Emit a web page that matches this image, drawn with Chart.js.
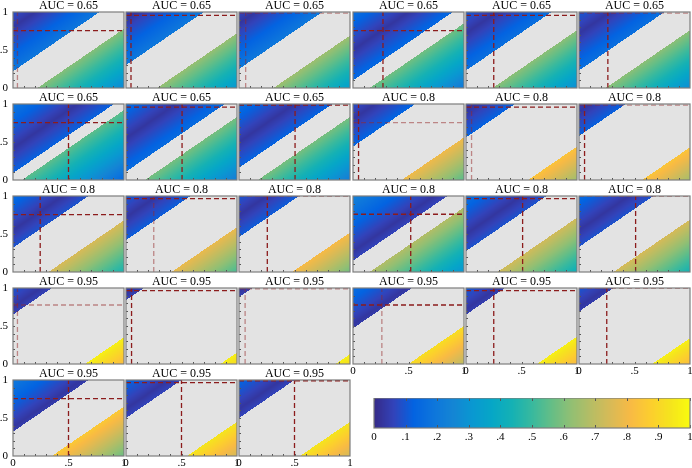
<!DOCTYPE html>
<html>
<head>
<meta charset="utf-8">
<script src="https://cdn.jsdelivr.net/npm/chart.js@4.4.1/dist/chart.umd.min.js"></script>
<style>
html, body { margin: 0; padding: 0; background: #fff; }
body { width: 692px; height: 468px; position: relative; overflow: hidden; }
canvas { position: absolute; }
</style>
</head>
<body>
<script>
// one entry per panel, row by row (6 per row, last row has 3)
const aucLabels = ['0.65', '0.65', '0.65', '0.65', '0.65', '0.65',
    '0.65', '0.65', '0.65', '0.8', '0.8', '0.8',
    '0.8', '0.8', '0.8', '0.8', '0.8', '0.8',
    '0.95', '0.95', '0.95', '0.95', '0.95', '0.95',
    '0.95', '0.95', '0.95'];
// grey band limits, in y - x
const upperEdge = [.22, .30, .25, .10, .23, .23, .09, .11, .16, .44, .56, .58,
    .32, .42, .46, .15, .275, .33, .65, .84, .88, .47, .65, .69, .32, .5, .5];
const lowerEdge = [-.22, -.28, -.31, -.15, -.24, -.24, -.08, -.17, -.17, -.44, -.56, -.57,
    -.32, -.41, -.48, -.15, -.285, -.31, -.65, -.85, -.87, -.5, -.64, -.66, -.35, -.55, -.55];
// dark valley in the upper region, in y - x
const stripeAt = [.8, .9, .85, .5, .72, .72, .42, .55, .5, .8, .9, .9,
    .55, .72, .75, .27, .5, .55, .75, .93, .95, .52, .72, .75, .38, .62, .62];
const vLineX = [.04, .045, .06, .27, .25, .26, .5, .505, .505, .05, .05, .05,
    .245, .25, .255, .52, .51, .51, .04, .05, .055, .26, .25, .25, .5, .5, .5];
const hLineY = [.755, .955, .985, .755, .955, .985, .755, .96, .985, .755, .96, .985,
    .755, .965, .995, .76, .965, .995, .776, .965, .99, .776, .965, .995, .755, .965, .99];
const vFaded = [1, 0, 1, 0, 0, 0, 0, 0, 0, 0, 1, 0, 0, 1, 0, 0, 0, 0, 1, 0, 1, 1, 0, 0, 0, 0, 0];
const hFaded = [0, 0, 1, 0, 0, 1, 0, 0, 0, 1, 0, 1, 0, 0, 1, 0, 0, 1, 1, 0, 1, 0, 0, 1, 0, 0, 0];
// level just below the band, before the band width is added
const edgeBase = { '0.65': 0.52, '0.8': 0.62, '0.95': 0.72 };

const axisTicks = [0, 0.5, 1];
const axisTickText = ['0', '.5', '1'];
const barTicks = [0, .1, .2, .3, .4, .5, .6, .7, .8, .9, 1];
const barTickText = ['0', '.1', '.2', '.3', '.4', '.5', '.6', '.7', '.8', '.9', '1'];

const parula = [
    [53, 42, 135], [50, 67, 186], [3, 99, 225], [13, 117, 220], [20, 133, 212],
    [9, 152, 209], [6, 167, 198], [21, 177, 180], [56, 185, 158], [101, 190, 134],
    [146, 191, 115], [183, 189, 100], [217, 186, 86], [248, 186, 68], [252, 206, 46],
    [245, 228, 29], [249, 251, 14],
];

const colLeft = [13, 126, 239, 353, 466, 579];
const rowTop = [12, 104, 196, 288, 380];
const panelW = 111;
const panelH = 76;
const serif = '"Liberation Serif", "Times New Roman", serif';

const parulaAt = (v) => {
    const t = Math.min(Math.max(v, 0), 1) * (parula.length - 1);
    const k = Math.min(Math.floor(t), parula.length - 2);
    const f = t - k;
    return parula[k].map((c, j) => c + (parula[k + 1][j] - c) * f);
};

const cellColour = (i, xv, yv) => {
    const d = yv - xv;
    if (d > upperEdge[i]) {
        return parulaAt(0.03 + 0.28 * Math.abs(d - stripeAt[i]));
    }
    if (d < lowerEdge[i]) {
        const top = Math.min(0.97, edgeBase[aucLabels[i]] + 0.4 * Math.abs(lowerEdge[i]));
        return parulaAt(top - 0.45 * (lowerEdge[i] - d));
    }
    return [227, 227, 227];
};

const heatPlugin = (i) => ({
    id: 'heat',
    beforeDatasetsDraw(chart) {
        const { ctx, chartArea: a, scales: { x, y } } = chart;
        const w = Math.round(a.right - a.left);
        const h = Math.round(a.bottom - a.top);
        const img = ctx.createImageData(w, h);
        for (let py = 0; py < h; py++) {
            const yv = y.getValueForPixel(a.top + py + 0.5);
            for (let px = 0; px < w; px++) {
                const xv = x.getValueForPixel(a.left + px + 0.5);
                const c = cellColour(i, xv, yv);
                const o = (py * w + px) * 4;
                img.data[o] = c[0];
                img.data[o + 1] = c[1];
                img.data[o + 2] = c[2];
                img.data[o + 3] = 255;
            }
        }
        ctx.putImageData(img, a.left, a.top);
    },
    afterDatasetsDraw(chart) {
        const { ctx, chartArea: a, scales: { x, y } } = chart;
        ctx.save();
        ctx.strokeStyle = '#555';
        ctx.lineWidth = 1;
        for (let k = 1; k < 10; k++) {
            const px = Math.round(x.getPixelForValue(k / 10)) + 0.5;
            const py = Math.round(y.getPixelForValue(k / 10)) + 0.5;
            ctx.beginPath();
            ctx.moveTo(px, a.bottom);
            ctx.lineTo(px, a.bottom - 2);
            ctx.moveTo(a.left, py);
            ctx.lineTo(a.left + 2, py);
            ctx.stroke();
        }
        ctx.strokeStyle = '#7d7d7d';
        ctx.lineWidth = 1.2;
        ctx.strokeRect(a.left, a.top, a.right - a.left, a.bottom - a.top);
        ctx.restore();
    },
});

const dashColour = (faded) => (faded ? 'rgba(150, 40, 40, 0.5)' : 'rgb(140, 28, 28)');

const makePanel = (i) => {
    const row = Math.floor(i / 6);
    const col = i % 6;
    const canvas = document.createElement('canvas');
    const cw = 16 + panelW + 4;
    const ch = 18 + panelH + 16;
    canvas.width = cw;
    canvas.height = ch;
    canvas.style.width = cw + 'px';
    canvas.style.height = ch + 'px';
    canvas.style.left = (colLeft[col] - 16) + 'px';
    canvas.style.top = (rowTop[row] - 18) + 'px';
    document.body.appendChild(canvas);

    const showY = col === 0;
    const showX = row === 4 || (row === 3 && col >= 3);
    const tickFont = { family: serif, size: 11 };

    return new Chart(canvas, {
        type: 'scatter',
        data: {
            datasets: [
                {
                    data: [{ x: vLineX[i], y: 0 }, { x: vLineX[i], y: 1 }],
                    showLine: true,
                    borderColor: dashColour(vFaded[i]),
                    borderWidth: 1.3,
                    borderDash: [5, 3],
                    pointRadius: 0,
                },
                {
                    data: [{ x: 0, y: hLineY[i] }, { x: 1, y: hLineY[i] }],
                    showLine: true,
                    borderColor: dashColour(hFaded[i]),
                    borderWidth: 1.3,
                    borderDash: [5, 3],
                    pointRadius: 0,
                },
            ],
        },
        options: {
            responsive: false,
            animation: false,
            events: [],
            layout: { padding: { left: 0, right: 4, top: 0, bottom: 0 } },
            plugins: {
                legend: { display: false },
                tooltip: { enabled: false },
                title: {
                    display: true,
                    text: 'AUC = ' + aucLabels[i],
                    fullSize: false,
                    color: '#000',
                    font: { family: serif, size: 12, weight: 'normal', lineHeight: 1 },
                    padding: { top: 5.5, bottom: 0.5 },
                },
            },
            scales: {
                x: {
                    type: 'linear',
                    min: 0,
                    max: 1,
                    afterBuildTicks: (s) => { s.ticks = axisTicks.map((v) => ({ value: v })); },
                    afterFit: (s) => { s.height = 16; },
                    grid: { display: false, drawTicks: false },
                    border: { display: false },
                    ticks: {
                        display: showX,
                        padding: 1,
                        autoSkip: false,
                        maxRotation: 0,
                        color: '#000',
                        font: tickFont,
                        callback: (v) => axisTickText[axisTicks.indexOf(v)],
                    },
                },
                y: {
                    type: 'linear',
                    min: 0,
                    max: 1,
                    afterBuildTicks: (s) => { s.ticks = axisTicks.map((v) => ({ value: v })); },
                    afterFit: (s) => { s.width = 16; },
                    grid: { display: false, drawTicks: false },
                    border: { display: false },
                    ticks: {
                        display: showY,
                        padding: 5,
                        autoSkip: false,
                        color: '#000',
                        font: tickFont,
                        callback: (v) => axisTickText[axisTicks.indexOf(v)],
                    },
                },
            },
        },
        plugins: [heatPlugin(i)],
    });
};

aucLabels.forEach((_, i) => makePanel(i));

// colour bar
const barPlugin = {
    id: 'bar',
    beforeDatasetsDraw(chart) {
        const { ctx, chartArea: a, scales: { x } } = chart;
        ctx.save();
        for (let px = Math.floor(a.left); px < a.right; px++) {
            const c = parulaAt(x.getValueForPixel(px + 0.5));
            ctx.fillStyle = `rgb(${c[0]}, ${c[1]}, ${c[2]})`;
            ctx.fillRect(px, a.top, 1, a.bottom - a.top);
        }
        ctx.strokeStyle = '#555';
        ctx.lineWidth = 1;
        barTicks.forEach((v) => {
            const px = Math.round(x.getPixelForValue(v)) + 0.5;
            ctx.beginPath();
            ctx.moveTo(px, a.bottom);
            ctx.lineTo(px, a.bottom - 3);
            ctx.moveTo(px, a.top);
            ctx.lineTo(px, a.top + 3);
            ctx.stroke();
        });
        ctx.strokeStyle = '#7d7d7d';
        ctx.lineWidth = 1.2;
        ctx.strokeRect(a.left, a.top, a.right - a.left, a.bottom - a.top);
        ctx.restore();
    },
};

const barCanvas = document.createElement('canvas');
barCanvas.width = 336;
barCanvas.height = 50;
barCanvas.style.width = '336px';
barCanvas.style.height = '50px';
barCanvas.style.left = '364px';
barCanvas.style.top = '398px';
document.body.appendChild(barCanvas);

new Chart(barCanvas, {
    type: 'scatter',
    data: { datasets: [{ data: [] }] },
    options: {
        responsive: false,
        animation: false,
        events: [],
        layout: { padding: { left: 10, right: 10, top: 0, bottom: 0 } },
        plugins: { legend: { display: false }, tooltip: { enabled: false } },
        scales: {
            x: {
                type: 'linear',
                min: 0,
                max: 1,
                afterBuildTicks: (s) => { s.ticks = barTicks.map((v) => ({ value: v })); },
                afterFit: (s) => { s.height = 20; },
                grid: { display: false, drawTicks: false },
                border: { display: false },
                ticks: {
                    padding: 3,
                    autoSkip: false,
                    maxRotation: 0,
                    color: '#000',
                    font: { family: serif, size: 11 },
                    callback: (v) => barTickText[barTicks.findIndex((t) => Math.abs(t - v) < 1e-9)],
                },
            },
            y: { display: false, min: 0, max: 1 },
        },
    },
    plugins: [barPlugin],
});
</script>
</body>
</html>
